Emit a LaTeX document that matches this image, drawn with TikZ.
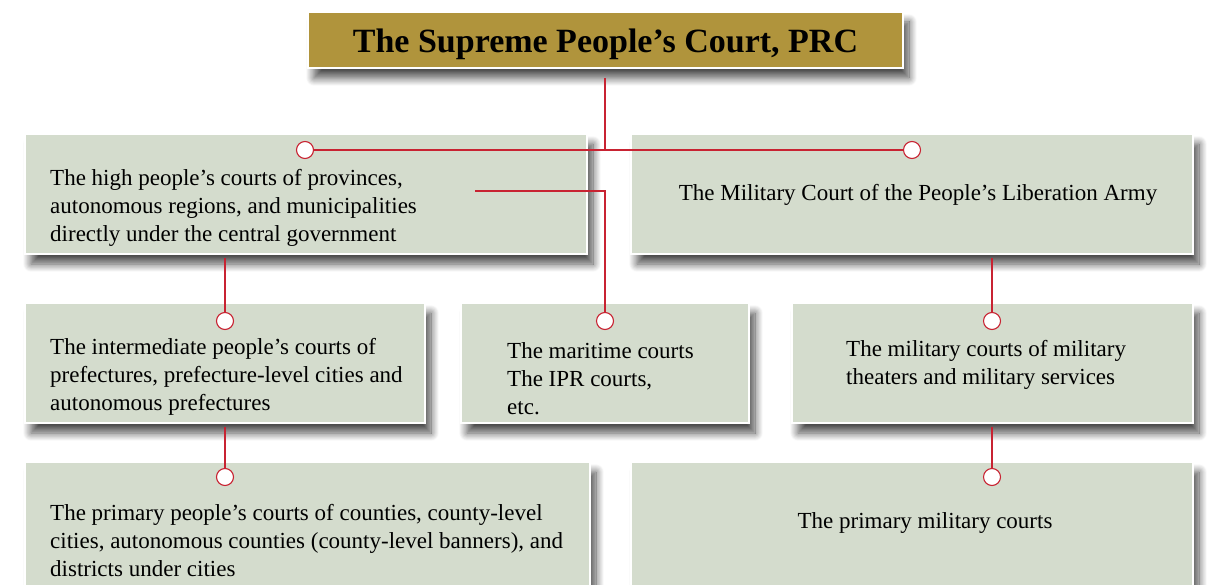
\documentclass[tikz,border=0pt]{standalone}
\usepackage{fontspec}
\setmainfont{Liberation Serif}
\definecolor{courtgold}{RGB}{176,148,60}
\definecolor{boxsage}{RGB}{212,220,205}
\definecolor{linkred}{RGB}{200,35,50}
\usetikzlibrary{positioning,shadows.blur}

\begin{document}
\begin{tikzpicture}[x=1pt, y=-1pt,
    tier/.style={draw=white, line width=2.5pt, fill=boxsage, anchor=north west, inner sep=0pt,
                 outer sep=0pt, minimum height=120pt,
                 blur shadow={shadow xshift=6pt, shadow yshift=-10pt, shadow blur radius=8pt,
                              shadow blur steps=14, shadow opacity=70}},
    knob/.style={circle, draw=linkred, fill=white, line width=1.1pt, minimum size=17pt, inner sep=0pt},
    link/.style={draw=linkred, line width=1.2pt},
    body/.style={font=\fontsize{23}{28}\selectfont, align=left, inner sep=0pt}]
  \useasboundingbox (0,0) rectangle (1214,585);

  % boxes
  \node[tier, fill=courtgold, minimum width=595pt, minimum height=56pt, text height=30pt, text depth=4pt,
        font=\fontsize{34}{38}\selectfont\bfseries] (spc) at (308,12) {The Supreme People's Court, PRC};
  \node[tier, minimum width=562pt] (high) at (25,134) {};
  \node[tier, minimum width=562pt] (pla) at (631,134) {};
  \node[tier, minimum width=400pt] (inter) at (25,303) {};
  \node[tier, minimum width=288pt] (mari) at (461,303) {};
  \node[tier, minimum width=401pt] (theater) at (792,303) {};
  \node[tier, minimum width=565pt, minimum height=135pt] (prim) at (25,462) {};
  \node[tier, minimum width=562pt, minimum height=135pt] (primmil) at (631,462) {};

  % joints
  \node[knob] (k-high) at (305,150) {};
  \node[knob] (k-pla) at (912,150) {};
  \node[knob] (k-inter) at (225,321) {};
  \node[knob] (k-mari) at (605,321) {};
  \node[knob] (k-theater) at (992,321) {};
  \node[knob] (k-prim) at (225,477) {};
  \node[knob] (k-primmil) at (992,477) {};

  % links
  \coordinate (fork) at (605,150);
  \coordinate (hi-tap) at (475,191);
  \draw[link, shorten <=10pt] (spc.south -| fork) -- (fork);
  \draw[link] (k-high) -- (fork) -- (k-pla);
  \draw[link, shorten <=4pt] (high.south -| k-inter) -- (k-inter);
  \draw[link] (hi-tap) -| (k-mari);
  \draw[link, shorten <=4pt] (pla.south -| k-theater) -- (k-theater);
  \draw[link, shorten <=4pt] (inter.south -| k-prim) -- (k-prim);
  \draw[link, shorten <=4pt] (theater.south -| k-primmil) -- (k-primmil);

  % texts
  \node[body, anchor=west] (t-high) at (50,208) {The high people's courts of provinces,\\autonomous regions, and municipalities\\directly under the central government};
  \node[body] (t-pla) at (918,195) {The Military Court of the People's Liberation Army};
  \node[body, anchor=west] (t-inter) at (50,377) {The intermediate people's courts of\\prefectures, prefecture-level cities and\\autonomous prefectures};
  \node[body, anchor=west] (t-mari) at (507,379) {The maritime courts\\The IPR courts,\\etc.};
  \node[body, anchor=west] (t-theater) at (846,365) {The military courts of military\\theaters and military services};
  \node[body, anchor=west] (t-prim) at (50,541) {The primary people's courts of counties, county-level\\cities, autonomous counties (county-level banners), and\\districts under cities};
  \node[body] (t-primmil) at (925,523) {The primary military courts};
\end{tikzpicture}
\end{document}
